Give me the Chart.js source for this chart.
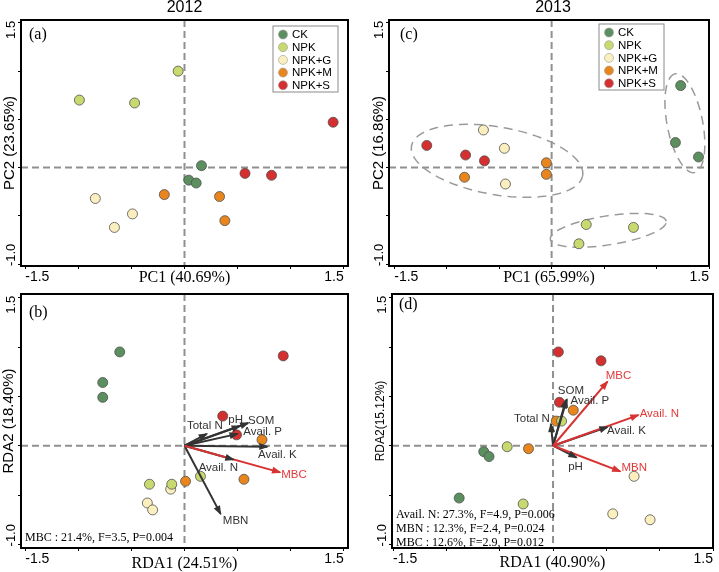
<!DOCTYPE html>
<html>
<head>
<meta charset="utf-8">
<script src="https://cdn.jsdelivr.net/npm/chart.js@4"></script>
<style>
  html, body { margin: 0; padding: 0; background: #fff; }
  #wrap { position: relative; width: 719px; height: 572px; overflow: hidden; }
  canvas { position: absolute; left: 0; top: 0; }
</style>
</head>
<body>
<div id="wrap">
  <canvas id="cA" width="719" height="572"></canvas>
  <canvas id="cB" width="719" height="572"></canvas>
  <canvas id="cC" width="719" height="572"></canvas>
  <canvas id="cD" width="719" height="572"></canvas>
</div>
<script>
// ---- data ----
const groups = ['CK', 'NPK', 'NPK+G', 'NPK+M', 'NPK+S'];
const groupColors = ['#5c8f5f', '#c8d96f', '#fcefbf', '#e8861d', '#d52f2f'];

// (a) PCA 2012, one sub-array per group (CK, NPK, NPK+G, NPK+M, NPK+S)
const pca2012X = [[0.16, 0.04, 0.11], [-0.06, -0.99, -0.47], [-0.84, -0.49, -0.66], [-0.19, 0.33, 0.38], [1.40, 0.57, 0.82]];
const pca2012Y = [[0.02, -0.13, -0.16], [1.00, 0.70, 0.67], [-0.32, -0.48, -0.62], [-0.28, -0.30, -0.55], [0.47, -0.06, -0.08]];

// (c) PCA 2013
const pca2013X = [[1.23, 1.18, 1.40], [0.33, 0.78, 0.26], [-0.65, -0.45, -0.44], [-0.05, -0.05, -0.83], [-1.19, -0.82, -0.64]];
const pca2013Y = [[0.85, 0.26, 0.11], [-0.59, -0.62, -0.79], [0.39, 0.20, -0.17], [0.05, -0.07, -0.10], [0.23, 0.13, 0.07]];
// group ellipses in (c): centre x, centre y, semi-axis a, semi-axis b, angle (deg)
const ellipses2013 = [[-0.52, 0.07, 0.83, 0.35, -11], [1.27, 0.46, 0.52, 0.17, 100], [0.54, -0.65, 0.56, 0.15, 9.7]];

// (b) RDA 2012
const rda2012X = [[-0.61, -0.77, -0.77], [-0.33, -0.12, 0.15], [-0.13, -0.35, -0.30], [0.73, 0.56, 0.01], [0.93, 0.36, 0.49]];
const rda2012Y = [[0.95, 0.64, 0.49], [-0.39, -0.39, -0.31], [-0.44, -0.58, -0.65], [0.06, -0.34, -0.36], [0.91, 0.30, 0.11]];
const env2012Names = ['Total N', 'pH', 'SOM', 'Avail. P', 'Avail. K', 'Avail. N', 'MBN', 'MBC'];
const env2012X = [0.21, 0.52, 0.60, 0.50, 0.78, 0.46, 0.34, 0.90];
const env2012Y = [0.12, 0.20, 0.23, 0.12, -0.01, -0.14, -0.69, -0.27];
const env2012Sig = ['MBC'];
const stats2012 = ['MBC : 21.4%, F=3.5, P=0.004'];

// (d) RDA 2013
const rda2013X = [[-0.65, -0.60, -0.88], [0.08, -0.43, -0.28], [0.76, 0.56, 0.91], [0.19, 0.03, -0.23], [0.05, 0.45, 0.06]];
const rda2013Y = [[-0.06, -0.11, -0.53], [0.25, -0.01, -0.59], [-0.31, -0.69, -0.75], [0.36, 0.25, -0.03], [0.95, 0.86, 0.44]];
const env2013Names = ['Total N', 'SOM', 'Avail. P', 'pH', 'Avail. K', 'MBC', 'Avail. N', 'MBN'];
const env2013X = [-0.02, 0.13, 0.12, 0.22, 0.51, 0.51, 0.80, 0.63];
const env2013Y = [0.22, 0.47, 0.46, -0.12, 0.19, 0.65, 0.31, -0.26];
const env2013Sig = ['MBC', 'Avail. N', 'MBN'];
const stats2013 = ['Avail. N: 27.3%, F=4.9, P=0.006', 'MBN : 12.3%, F=2.4, P=0.024', 'MBC : 12.6%, F=2.9, P=0.012'];

// axes
const tickValues = [-1.5, -1.0, -0.5, 0, 0.5, 1.0, 1.5];
const xLabelTicks = [-1.5, 1.5];
const yLabelTicks = [1.5, -1.0];

// ---- layout / styling ----
const SANS = '"Liberation Sans", Arial, sans-serif';
const SERIF = '"Liberation Serif", "Times New Roman", serif';
const DARK = '#333333';
const RED = '#d83232';

// pixel offsets of arrow labels from arrow tips
const env2012LabelOffsets = [[-2, -8], [-4, -6], [13, -2], [25, -2], [10, 8], [-15, 8], [15, 7], [14, 2]];
const env2013LabelOffsets = [[-19, -5], [4, -9], [24, 1], [-1, 9], [19, 4], [11, -6], [21, -1], [14, -4]];

Chart.defaults.font.family = SANS;
Chart.defaults.color = '#000';

function toPoints(xs, ys) {
  return xs.map((x, k) => ({ x: x, y: ys[k] }));
}

function makeDecor(p) {
  return {
    id: 'decor' + p.letter,
    beforeDatasetsDraw(chart) {
      const { ctx, chartArea: a, scales: { x, y } } = chart;
      ctx.save();
      // dashed zero lines
      ctx.strokeStyle = '#909090';
      ctx.lineWidth = 2;
      ctx.setLineDash([7, 4]);
      const x0 = x.getPixelForValue(0), y0 = y.getPixelForValue(0);
      ctx.beginPath();
      ctx.moveTo(x0, a.top); ctx.lineTo(x0, a.bottom);
      ctx.moveTo(a.left, y0); ctx.lineTo(a.right, y0);
      ctx.stroke();
      // group ellipses
      ctx.strokeStyle = '#9a9a9a';
      ctx.lineWidth = 1.5;
      ctx.setLineDash([9, 6]);
      (p.ellipses || []).forEach(([cx, cy, ra, rb, deg]) => {
        const t = deg * Math.PI / 180;
        ctx.beginPath();
        for (let k = 0; k <= 90; k++) {
          const u = k / 90 * 2 * Math.PI;
          const ex = cx + ra * Math.cos(u) * Math.cos(t) - rb * Math.sin(u) * Math.sin(t);
          const ey = cy + ra * Math.cos(u) * Math.sin(t) + rb * Math.sin(u) * Math.cos(t);
          const px = x.getPixelForValue(ex), py = y.getPixelForValue(ey);
          if (k === 0) ctx.moveTo(px, py); else ctx.lineTo(px, py);
        }
        ctx.stroke();
      });
      ctx.restore();
    },
    afterDatasetsDraw(chart) {
      const { ctx, chartArea: a, scales: { y } } = chart;
      ctx.save();
      ctx.setLineDash([]);
      // arrow heads + labels
      chart.data.datasets.forEach((ds, i) => {
        if (!ds.isArrow) return;
        const pts = chart.getDatasetMeta(i).data;
        const p0 = pts[0], p1 = pts[1];
        const ang = Math.atan2(p1.y - p0.y, p1.x - p0.x);
        const c = Math.cos(ang), s = Math.sin(ang);
        ctx.fillStyle = ds.borderColor;
        ctx.beginPath();
        ctx.moveTo(p1.x + c * 1.5, p1.y + s * 1.5);
        ctx.lineTo(p1.x - 8 * c + 3.5 * s, p1.y - 8 * s - 3.5 * c);
        ctx.lineTo(p1.x - 8 * c - 3.5 * s, p1.y - 8 * s + 3.5 * c);
        ctx.closePath();
        ctx.fill();
        ctx.font = '11.5px ' + SANS;
        ctx.textAlign = 'center';
        ctx.textBaseline = 'middle';
        ctx.fillStyle = ds.borderColor === RED ? '#e03a3a' : DARK;
        ctx.fillText(ds.label, p1.x + ds.labelOffset[0], p1.y + ds.labelOffset[1]);
      });
      // frame
      ctx.strokeStyle = '#000';
      ctx.lineWidth = 2;
      ctx.strokeRect(a.left, a.top, a.right - a.left, a.bottom - a.top);
      // rotated y tick labels
      ctx.fillStyle = '#000';
      ctx.font = '13px ' + SANS;
      ctx.textBaseline = 'middle';
      yLabelTicks.forEach(v => {
        const py = y.getPixelForValue(v);
        ctx.save();
        ctx.translate(a.left - 10, py);
        ctx.rotate(-Math.PI / 2);
        ctx.textAlign = v > 0 ? 'right' : 'left';
        ctx.fillText(v.toFixed(1), v > 0 ? 2 : -2, 0);
        ctx.restore();
      });
      // panel letter
      ctx.font = '16px ' + SERIF;
      ctx.textAlign = 'left';
      ctx.fillText('(' + p.letter + ')', p.letterPos[0], p.letterPos[1]);
      // year title
      if (p.year) {
        ctx.font = '16px ' + SANS;
        ctx.textAlign = 'center';
        ctx.fillText(p.year, p.yearPos[0], p.yearPos[1]);
      }
      // statistics
      if (p.stats) {
        ctx.font = '12px ' + SERIF;
        ctx.textAlign = 'left';
        p.stats.forEach((t, k) => ctx.fillText(t, p.statsPos[0], p.statsPos[1] + k * 14));
      }
      // legend box
      if (p.legend) {
        const lx = a.left + p.legend[0], ly = a.top + p.legend[1];
        ctx.fillStyle = '#fff';
        ctx.fillRect(lx, ly, 65, 66);
        ctx.strokeStyle = '#8a8a8a';
        ctx.lineWidth = 1;
        ctx.strokeRect(lx, ly, 65, 66);
        ctx.font = '11.5px ' + SANS;
        ctx.textAlign = 'left';
        groups.forEach((g, k) => {
          const iy = ly + 8.5 + k * 12.7;
          ctx.beginPath();
          ctx.arc(lx + 10, iy, 4.5, 0, 2 * Math.PI);
          ctx.fillStyle = groupColors[k];
          ctx.fill();
          ctx.strokeStyle = '#9a9a9a';
          ctx.lineWidth = 0.6;
          ctx.stroke();
          ctx.fillStyle = '#000';
          ctx.fillText(g, lx + 19, iy + 0.5);
        });
      }
      ctx.restore();
    }
  };
}

function buildPanel(canvasId, p) {
  const datasets = groups.map((g, i) => ({
    label: g,
    data: toPoints(p.xs[i], p.ys[i]),
    backgroundColor: groupColors[i],
    borderColor: '#505050',
    borderWidth: 0.8,
    pointRadius: 5,
    order: 2
  }));
  if (p.env) {
    p.env.names.forEach((name, i) => {
      const sig = p.env.sig.includes(name);
      datasets.push({
        label: name,
        data: [{ x: 0, y: 0 }, { x: p.env.x[i], y: p.env.y[i] }],
        showLine: true,
        borderColor: sig ? RED : DARK,
        borderWidth: 2,
        pointRadius: 0,
        order: sig ? 0 : 1,
        isArrow: true,
        labelOffset: p.env.offsets[i]
      });
    });
  }
  const [L, T, R, B] = p.area;
  const xTitleBottom = p.xTitleY + 8;
  const grid = { display: true, drawOnChartArea: false, drawTicks: true, tickLength: 3, color: '#000', tickWidth: 1 };
  return new Chart(document.getElementById(canvasId), {
    type: 'scatter',
    data: { datasets: datasets },
    options: {
      responsive: false,
      animation: false,
      events: [],
      layout: { padding: { left: p.yTitleLeft, top: T, right: 719 - R, bottom: 572 - xTitleBottom } },
      plugins: { legend: { display: false }, tooltip: { enabled: false } },
      scales: {
        x: {
          min: p.xRange[0], max: p.xRange[1],
          afterBuildTicks: s => { s.ticks = tickValues.filter(v => v >= s.min - 1e-9 && v <= s.max + 1e-9).map(v => ({ value: v })); },
          afterFit: s => { s.height = xTitleBottom - B; },
          grid: grid,
          border: { display: false },
          ticks: {
            autoSkip: false, maxRotation: 0, align: 'inner', padding: 0,
            font: { size: 14 }, color: '#000',
            callback: v => xLabelTicks.includes(v) ? v.toFixed(1) : ''
          },
          title: { display: true, text: p.xTitle, font: { family: SERIF, size: 16, lineHeight: 1 }, padding: 0, color: '#000' }
        },
        y: {
          min: p.yRange[0], max: p.yRange[1],
          afterBuildTicks: s => { s.ticks = tickValues.filter(v => v >= s.min - 1e-9 && v <= s.max + 1e-9).map(v => ({ value: v })); },
          afterFit: s => { s.width = L - p.yTitleLeft; },
          grid: grid,
          border: { display: false },
          ticks: { display: false },
          title: { display: true, text: p.yTitle, font: { size: p.yTitleSize, lineHeight: 1 }, padding: 0, color: '#000' }
        }
      }
    },
    plugins: [makeDecor(p)]
  });
}

buildPanel('cA', {
  letter: 'a', letterPos: [29, 35], year: '2012', yearPos: [184.5, 8],
  xs: pca2012X, ys: pca2012Y,
  area: [21, 20, 348, 266], xRange: [-1.54, 1.54], yRange: [-1.02, 1.53],
  xTitle: 'PC1 (40.69%)', xTitleY: 278, yTitle: 'PC2 (23.65%)', yTitleSize: 15, yTitleLeft: 2,
  legend: [252, 6]
});
buildPanel('cB', {
  letter: 'b', letterPos: [29, 313],
  xs: rda2012X, ys: rda2012Y,
  env: { names: env2012Names, x: env2012X, y: env2012Y, sig: env2012Sig, offsets: env2012LabelOffsets },
  area: [21, 294, 348, 548], xRange: [-1.54, 1.54], yRange: [-1.036, 1.537],
  xTitle: 'RDA1 (24.51%)', xTitleY: 563.5, yTitle: 'RDA2 (18.40%)', yTitleSize: 15, yTitleLeft: 1.7,
  stats: stats2012, statsPos: [25, 537.5]
});
buildPanel('cC', {
  letter: 'c', letterPos: [400, 35], year: '2013', yearPos: [553, 8],
  xs: pca2013X, ys: pca2013Y, ellipses: ellipses2013,
  area: [389, 20, 709, 266], xRange: [-1.55, 1.5], yRange: [-1.02, 1.53],
  xTitle: 'PC1 (65.99%)', xTitleY: 278, yTitle: 'PC2 (16.86%)', yTitleSize: 15, yTitleLeft: 371.5,
  legend: [210, 4]
});
buildPanel('cD', {
  letter: 'd', letterPos: [399, 305],
  xs: rda2013X, ys: rda2013Y,
  env: { names: env2013Names, x: env2013X, y: env2013Y, sig: env2013Sig, offsets: env2013LabelOffsets },
  area: [392, 294, 713, 548], xRange: [-1.51, 1.5], yRange: [-1.036, 1.537],
  xTitle: 'RDA1 (40.90%)', xTitleY: 563, yTitle: 'RDA2(15.12%)', yTitleSize: 12, yTitleLeft: 375,
  stats: stats2013, statsPos: [396, 514.5]
});
</script>
</body>
</html>
